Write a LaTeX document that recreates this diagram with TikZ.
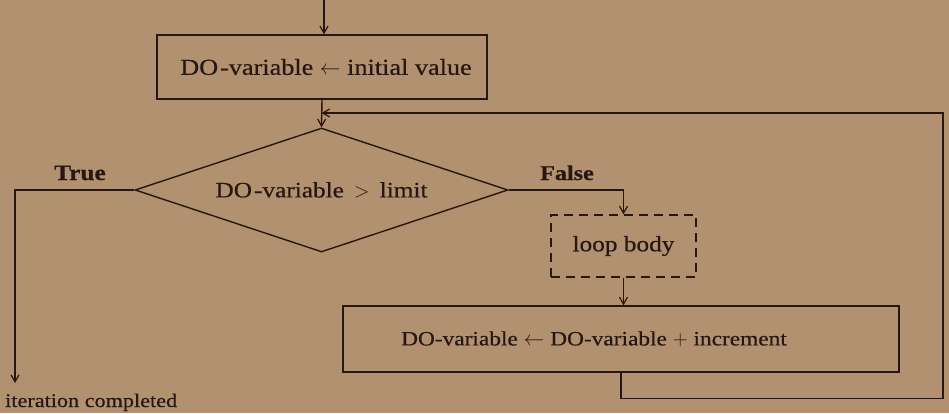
\documentclass[tikz,border=0pt]{standalone}
\usepackage{fontspec}
\setmainfont{Liberation Serif}[FakeStretch=1.15, FakeBold=0.5]
\usetikzlibrary{shapes.geometric,arrows.meta}
\definecolor{bg}{RGB}{178,145,112}
\definecolor{ink}{RGB}{40,22,16}
\tikzset{
  ln/.style={draw=ink, line width=1.4pt},
  arr/.style={ln, -{Straight Barb[length=7pt,width=8pt,line width=1.2pt]}},
  procbox/.style={ln, rectangle, inner sep=0pt, text=ink},
  dbox/.style={procbox, dash pattern=on 9pt off 6pt},
  dia/.style={ln, diamond, aspect=3, inner sep=0pt, text=ink, minimum width=373pt, minimum height=124pt},
  lbl/.style={text=ink, inner sep=0pt},
}
\begin{document}
\begin{tikzpicture}[x=1pt,y=-1pt,font=\fontsize{22}{26}\selectfont]
\fill[bg] (0,0) rectangle (949,413);
\useasboundingbox (0,0) rectangle (949,413);

\coordinate (start) at (324,0);
\node[procbox, minimum width=330pt, minimum height=64pt, font=\fontsize{22.8}{27}\selectfont] (init) at (322,67) {\hspace*{8pt}DO\kern2pt-variable $\leftarrow$ initial value};
\node[dia] (test) at (321.5,190) {DO\kern2pt-variable \,$>$\, limit};
\node[dbox, minimum width=145pt, minimum height=62pt] (body) at (623.5,246) {loop body};
\node[procbox, minimum width=556pt, minimum height=66pt, font=\fontsize{20.3}{24}\selectfont] (incr) at (621,339) {DO-variable $\leftarrow$ DO-variable $+$ increment\hspace*{54pt}};
\node[lbl, anchor=base] (T) at (80,180) {\bfseries True};
\node[lbl, anchor=base, font=\fontsize{21}{25}\selectfont] (F) at (567,180) {\bfseries False};
\node[lbl, anchor=base west, font=\fontsize{19.3}{24}\selectfont] (done) at (5,407) {iteration completed};
\coordinate (exit) at (15,383);
\coordinate (ret) at (943,113);

\draw[arr] (start) -- (start |- init.north);
\draw[arr] (init.south) -- (test.north);
\draw[arr] (test.west) -| (exit);
\draw[arr] (test.east) -| (body.north);
\draw[arr] (body.south) -- (body.south |- incr.north);
\draw[arr] (incr.south) -- ++(0,26) -| (ret) -- (test.north |- ret);
\end{tikzpicture}
\end{document}
